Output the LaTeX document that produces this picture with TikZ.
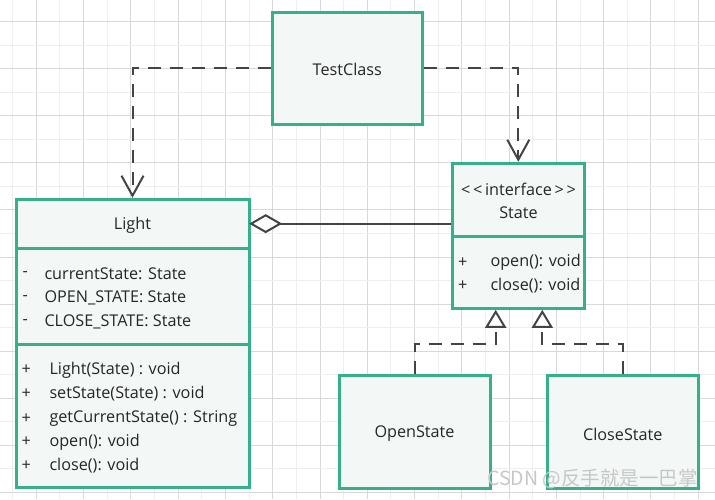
\documentclass[tikz,border=0pt]{standalone}
\usepackage{fontspec}
\setmainfont{Open Sans}
\newfontfamily\cjkfont{Noto Sans CJK SC}
\usetikzlibrary{arrows.meta,calc}
\definecolor{boxgreen}{HTML}{36B08A}
\definecolor{boxfill}{HTML}{F3F7F5}
\definecolor{lnk}{HTML}{444444}
\definecolor{txt}{HTML}{262626}
\definecolor{gridlight}{HTML}{EEEEEE}
\definecolor{griddark}{HTML}{D9D9D9}
\tikzset{
  umlbox/.style={draw=boxgreen, fill=boxfill, line width=3pt, inner sep=0pt, rectangle},
  sepline/.style={draw=boxgreen, line width=3pt},
  lbl/.style={text=txt, font=\fontsize{16.2}{18}\selectfont, inner sep=0pt},
  dep/.style={draw=lnk, line width=2pt, dash pattern=on 13pt off 9pt, -{Straight Barb[length=20pt,width=22pt,line width=2pt]}},
  real/.style={draw=lnk, line width=2pt, dash pattern=on 13pt off 9pt, -{Triangle[length=18pt,width=21pt,fill=white,line width=2pt]}},
  aggr/.style={draw=lnk, line width=2pt, {Diamond[length=33pt,width=19pt,fill=white,line width=2pt]}-}
}
\begin{document}
\begin{tikzpicture}[x=1pt,y=-1pt]
\useasboundingbox (0,0) rectangle (715,499);
\fill[white] (0,0) rectangle (715,499);
% grid
\foreach \k in {0,...,29}{
  \pgfmathtruncatemacro{\odd}{mod(\k,2)}
  \ifnum\odd=1 \def\gc{griddark}\else\def\gc{gridlight}\fi
  \draw[\gc, line width=1pt] ({12.7+23.64*\k},0) -- ({12.7+23.64*\k},499);
}
\foreach \k in {0,...,20}{
  \pgfmathtruncatemacro{\odd}{mod(\k,2)}
  \ifnum\odd=0 \def\gc{griddark}\else\def\gc{gridlight}\fi
  \draw[\gc, line width=1pt] (0,{21.5+23.55*\k}) -- (715,{21.5+23.55*\k});
}
% boxes
\node[umlbox, minimum width=150pt, minimum height=112pt] (test) at (347.3,68.3) {};
\node[lbl] at (347.3,69.5) {TestClass};

\node[umlbox, minimum width=233pt, minimum height=288.4pt] (light) at (132.5,343.5) {};
\node[inner sep=0pt, minimum width=233pt, minimum height=48.7pt] (lighthead) at (132.5,223.65) {};
\draw[sepline] (16,248) -- (249,248);
\draw[sepline] (16,344.3) -- (249,344.3);
\node[lbl] at (132.5,225.5) {Light};
\foreach \y/\t in {274/currentState: State, 298/OPEN\_STATE: State, 322/CLOSE\_STATE: State}{
  \node[lbl, anchor=west] at (22.5,\y) {-};
  \node[lbl, anchor=west] at (44.3,\y) {\t};
}
\foreach \y/\t in {370/Light(State) : void, 394/setState(State) : void, 418.3/getCurrentState() : String, 442/open(): void, 465.8/close(): void}{
  \node[lbl, anchor=west] at (21.5,\y) {+};
  \node[lbl, anchor=west] at (49.3,\y) {\t};
}

\node[umlbox, minimum width=132pt, minimum height=145pt] (state) at (518.3,235.8) {};
\node[inner sep=0pt, minimum width=132pt, minimum height=72.7pt] (statehead) at (518.3,199.65) {};
\draw[sepline] (452.3,236) -- (584.3,236);
\node[lbl] at (518.5,189.5) {<\,<\,interface\,>\,>};
\node[lbl] at (518.5,212.5) {State};
\foreach \y/\t in {262.3/open(): void, 285.8/close(): void}{
  \node[lbl, anchor=west] at (458,\y) {+};
  \node[lbl, anchor=west] at (490.3,\y) {\t};
}

\node[umlbox, minimum width=151pt, minimum height=112.6pt] (open) at (414.5,432) {};
\node[lbl] at (414.5,434) {OpenState};
\node[umlbox, minimum width=151pt, minimum height=112.6pt] (close) at (622.8,432) {};
\node[lbl] at (622.8,434) {CloseState};

% connectors
\draw[dep] (test.west) -| (light.north);
\draw[dep] (test.east) -| (state.north);
\draw[aggr] (lighthead.east) -- (lighthead.east -| state.west);
\draw[real] (open.north) -- ++(0,-30) -| ($(state.south)+(-22.6,0)$);
\draw[real] (close.north) -- ++(0,-30) -| ($(state.south)+(24,0)$);

% watermark
\node[text=black!22, font=\cjkfont\fontsize{19.5}{21}\selectfont, anchor=east, inner sep=0pt] at (698,479) {CSDN @反手就是一巴掌};
\end{tikzpicture}
\end{document}
